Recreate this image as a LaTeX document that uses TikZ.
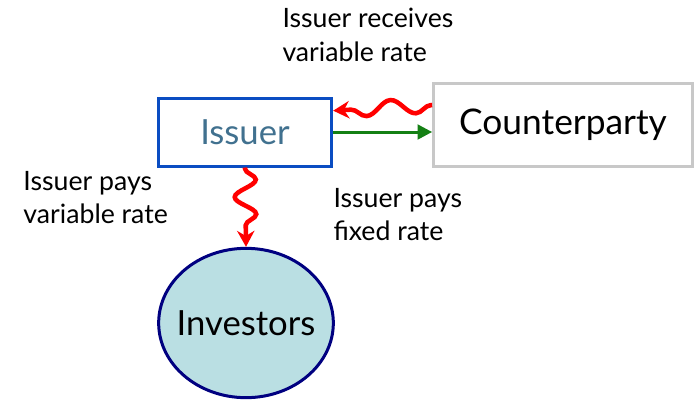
\documentclass[tikz,border=0pt]{standalone}
\usepackage{fontspec}
\setmainfont{Lato}
\usetikzlibrary{arrows.meta,decorations.pathmorphing,shapes.geometric}

\definecolor{issuerblue}{RGB}{10,77,194}
\definecolor{issuertext}{RGB}{65,113,143}
\definecolor{cptygrey}{RGB}{200,200,200}
\definecolor{invnavy}{RGB}{0,0,128}
\definecolor{invfill}{RGB}{186,223,227}
\definecolor{paygreen}{RGB}{20,128,20}

\tikzset{every picture/.style={line width=0.75pt}}
\tikzset{
  partybox/.style={draw, line width=2.25pt, inner sep=0pt},
  labeltext/.style={anchor=north west, inner sep=0pt, align=left, font=\fontsize{20}{25}\selectfont},
  wavy/.style={draw=red, line width=3.4pt, -{Stealth[length=12pt,width=13pt]}, decorate},
  fixedpay/.style={draw=paygreen, line width=2.25pt, -{Triangle[length=11pt,width=11pt]}}
}

\begin{document}
\begin{tikzpicture}[x=0.75pt,y=0.75pt,yscale=-1,xscale=1]
\useasboundingbox (0,0) rectangle (694,401);

% Boxes
\node [partybox, draw=issuerblue, minimum width=130pt, minimum height=51pt, text=issuertext, font=\fontsize{26}{30}\selectfont] (issuer) at (245,132) {Issuer};
\node [partybox, draw=cptygrey, minimum width=194pt, minimum height=62pt, font=\fontsize{26.5}{30}\selectfont] (cpty) at (563,125) {Counterparty};
\node [ellipse, draw=invnavy, fill=invfill, line width=2.25pt, minimum width=131pt, minimum height=112pt, inner sep=0pt, font=\fontsize{26}{30}\selectfont] (investors) at (246,323) {\makebox[0pt]{Investors}};

% Connectors
\draw [fixedpay] (issuer.east) -- (cpty.west |- issuer.east);
\draw [wavy, decoration={snake, amplitude=5.5pt, segment length=37pt, pre length=1pt, post length=9pt}] ([yshift=-15pt]cpty.west) -- ([yshift=-16pt]issuer.east);
\draw [wavy, decoration={snake, amplitude=8pt, segment length=26pt, pre length=1pt, post length=9pt}] (issuer.south) -- (investors.north);

% Text Node
\node [labeltext] (recv) at (282,8) {Issuer receives\\variable rate};
% Text Node
\node [labeltext] (payvar) at (23,171) {Issuer pays\\variable rate};
% Text Node
\node [labeltext] (payfix) at (333,188) {Issuer pays\\fixed rate};

\end{tikzpicture}
\end{document}
